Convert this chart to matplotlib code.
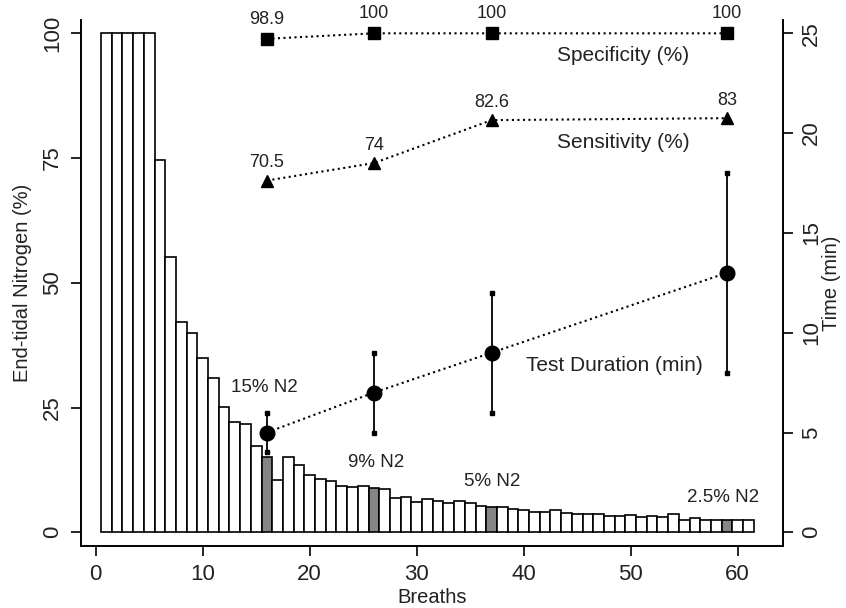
import numpy as np
import matplotlib.pyplot as plt

plt.rcParams['font.family'] = ['Liberation Sans', 'DejaVu Sans']

# end-tidal N2 per breath
breaths = np.arange(1, 62)
n2 = [100, 100, 100, 100, 100, 74.6, 55.1, 42.2, 39.9, 34.9,
      30.9, 25.1, 22.2, 21.7, 17.2, 15.0, 10.5, 15.0, 13.5, 11.5,
      10.6, 10.3, 9.3, 9.0, 9.3, 8.8, 8.7, 6.8, 7.0, 6.1,
      6.7, 6.3, 5.9, 6.2, 5.9, 5.3, 5.0, 5.0, 4.7, 4.5,
      4.1, 4.1, 4.5, 3.8, 3.7, 3.6, 3.6, 3.3, 3.3, 3.5,
      3.1, 3.3, 3.0, 3.7, 2.5, 2.8, 2.5, 2.5, 2.5, 2.5, 2.5]

# thresholds
cut_breath = [16, 26, 37, 59]
cut_names = ['15% N2', '9% N2', '5% N2', '2.5% N2']
specificity = [98.9, 100, 100, 100]
sensitivity = [70.5, 74, 82.6, 83]
duration = [5, 7, 9, 13]
dur_lo = [4, 5, 6, 8]
dur_hi = [6, 9, 12, 18]

txt = '#222222'

fig = plt.figure(figsize=(8.46, 6.08), dpi=100)
ax = fig.add_axes([81/846, 62/608, 702.3/846, 526/608])

colors = ['#858585' if b in cut_breath else 'white' for b in breaths]
ax.bar(breaths, n2, width=1.0, color=colors, edgecolor='black', linewidth=1.2, zorder=2)

ylo, yhi = -2.745, 102.67
ax.set_xlim(-1.374, 64.26)
ax.set_ylim(ylo, yhi)

# specificity / sensitivity on left scale
ax.plot(cut_breath, specificity, ':', color='black', lw=1.5, marker='s', ms=8.5, zorder=4)
ax.plot(cut_breath, sensitivity, ':', color='black', lw=1.5, marker='^', ms=9, zorder=4)
for x, v in zip(cut_breath, specificity):
    ax.annotate('%g' % v, (x, v), xytext=(0, 14), textcoords='offset points',
                ha='center', va='center', fontsize=13, color=txt)
for x, v in zip(cut_breath, sensitivity):
    ax.annotate('%g' % v, (x, v), xytext=(0, 13), textcoords='offset points',
                ha='center', va='center', fontsize=13, color=txt)

ax.text(49.3, 95.5, 'Specificity (%)', ha='center', va='center', fontsize=15, color=txt)
ax.text(49.3, 78.2, 'Sensitivity (%)', ha='center', va='center', fontsize=15, color=txt)
ax.text(48.5, 33.5, 'Test Duration (min)', ha='center', va='center', fontsize=15, color=txt)

lab_x = [15.8, 26.2, 37.1, 58.6]
lab_y = [29.1, 13.9, 10.1, 7.0]
for x, y, s in zip(lab_x, lab_y, cut_names):
    ax.text(x, y, s, ha='center', va='center', fontsize=13.5, color=txt)

# test duration on right scale
ax2 = ax.twinx()
ax2.set_ylim(ylo / 4, yhi / 4)
ax2.vlines(cut_breath, dur_lo, dur_hi, color='black', lw=1.3)
ax2.plot(cut_breath, dur_lo, 's', color='black', ms=3.2, ls='none')
ax2.plot(cut_breath, dur_hi, 's', color='black', ms=3.2, ls='none')
ax2.plot(cut_breath, duration, ':', color='black', lw=1.5, marker='o', ms=10.5)

for a in (ax, ax2):
    a.spines['top'].set_visible(False)
    for s in a.spines.values():
        s.set_linewidth(1.2)

ax.set_xticks([0, 10, 20, 30, 40, 50, 60])
ax.set_yticks([0, 25, 50, 75, 100])
ax.set_yticklabels(['0', '25', '50', '75', '100'], rotation=90, va='center')
ax2.set_yticks([0, 5, 10, 15, 20, 25])
ax2.set_yticklabels(['0', '5', '10', '15', '20', '25'], rotation=90, va='center')
ax.tick_params(axis='both', length=7, width=1.2, labelsize=16, pad=6, colors='black', labelcolor=txt)
ax2.tick_params(axis='y', length=7, width=1.2, labelsize=16, pad=6, labelcolor=txt)

ax.set_xlabel('Breaths', fontsize=14.5, color=txt, va='center')
ax.xaxis.set_label_coords(0.5, -0.097)
ax.set_ylabel('End-tidal Nitrogen (%)', fontsize=14.5, color=txt, va='center')
ax.yaxis.set_label_coords(-0.084, 0.5)
ax2.set_ylabel('Time (min)', fontsize=14.5, color=txt, va='center', rotation=90)
ax2.yaxis.set_label_coords(1.069, 0.5)

fig.savefig('out.png', dpi=100)
